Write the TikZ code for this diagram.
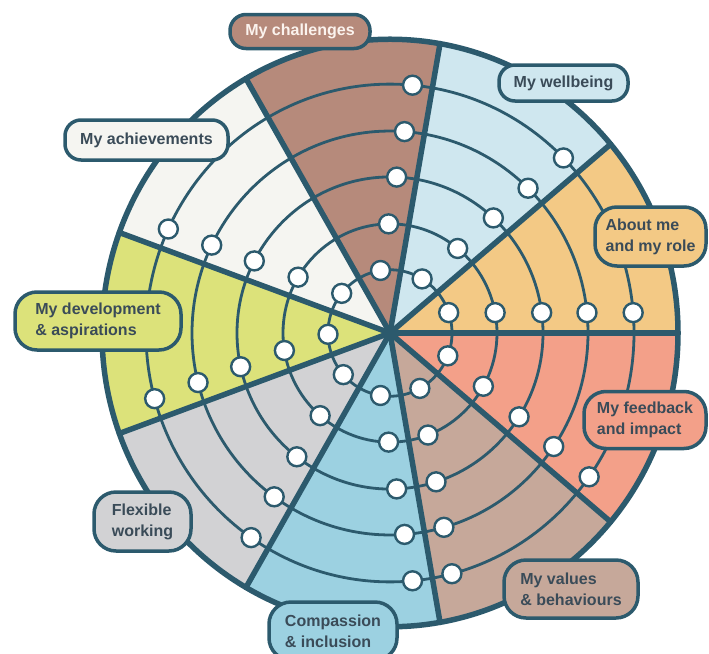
\documentclass[tikz,border=0pt]{standalone}
\usepackage{fontspec}
\setmainfont{Liberation Sans}
\definecolor{lineC}{HTML}{2C5A6D}
\definecolor{txtC}{HTML}{3A4B58}
\definecolor{aboutC}{HTML}{F3C985}
\definecolor{wellC}{HTML}{CFE7EF}
\definecolor{chalC}{HTML}{B68A7B}
\definecolor{achC}{HTML}{F5F5F1}
\definecolor{devC}{HTML}{DCE27A}
\definecolor{flexC}{HTML}{D2D2D4}
\definecolor{compC}{HTML}{9CD1E1}
\definecolor{valC}{HTML}{C6A89A}
\definecolor{feedC}{HTML}{F3A089}
\definecolor{chalT}{HTML}{FBF3EE}
\tikzset{
  ringline/.style={draw=lineC, line width=2.8pt},
  spoke/.style={draw=lineC, line width=5.5pt, line cap=round},
  rim/.style={draw=lineC, line width=5.5pt},
  dotnode/.style={circle, draw=lineC, line width=2.4pt, fill=white, minimum size=19pt, inner sep=0pt},
  lab/.style={draw=lineC, line width=3.5pt, font=\bfseries\fontsize{16}{21}\selectfont, text=txtC, align=left, inner sep=0pt},
  lab1/.style={lab, rounded corners=16pt},
  lab2/.style={lab, rounded corners=22pt}
}
\begin{document}
\begin{tikzpicture}[x=1pt,y=1pt]
\useasboundingbox (0,0) rectangle (709,-653);
\begin{scope}[shift={(390,-333)},yscale=1.02]
  \coordinate (ctr) at (0,0);
  \foreach \a/\c in {0/aboutC,40/wellC,80/chalC,120/achC,160/devC,200/flexC,240/compC,280/valC,320/feedC}
    \fill[\c] (ctr) -- (\a:288) arc[start angle=\a, end angle=\a+40, radius=288] -- cycle;
  \foreach \r in {62,107,153,198,244}
    \draw[ringline] (ctr) circle[radius=\r];
  \foreach \a in {0,40,...,320}
    \draw[spoke] (ctr) -- (\a:288);
  \draw[rim] (ctr) circle[radius=288];
  \foreach \n/\b/\s in {about/0/1, well/40/1, chal/80/1, ach/160/-1, dev/200/-1, flex/240/-1, comp/280/-1, val/280/1, feed/320/1}
    \foreach \r [count=\k] in {62,107,153,198,244}
      \node[dotnode] (\n\k) at ({\b+\s*asin(20/\r)}:\r) {};
\end{scope}
\node[lab1, fill=chalC, text=chalT, minimum width=140pt, minimum height=34pt] (lchal) at (300,-31.5) {My challenges};
\node[lab1, fill=wellC, minimum width=129pt, minimum height=36pt] (lwell) at (563.5,-83) {My wellbeing};
\node[lab1, fill=achC, minimum width=163pt, minimum height=40pt] (lach) at (146.5,-140) {My achievements};
\node[lab2, fill=aboutC, minimum width=111pt, minimum height=59pt] (labout) at (650.5,-236.5) {About me\\and my role};
\node[lab2, fill=feedC, minimum width=122pt, minimum height=57pt] (lfeed) at (645,-420) {My feedback\\and impact};
\node[lab2, fill=valC, minimum width=134pt, minimum height=58pt] (lval) at (571,-589) {My values\\\& behaviours};
\node[lab2, fill=compC, minimum width=128pt, minimum height=58pt] (lcomp) at (333,-631) {Compassion\\\& inclusion};
\node[lab2, fill=flexC, minimum width=97pt, minimum height=59pt] (lflex) at (142.5,-521.5) {Flexible\\working};
\node[lab2, fill=devC, minimum width=166pt, minimum height=58pt] (ldev) at (98,-321) {My development\\\& aspirations};
\end{tikzpicture}
\end{document}
